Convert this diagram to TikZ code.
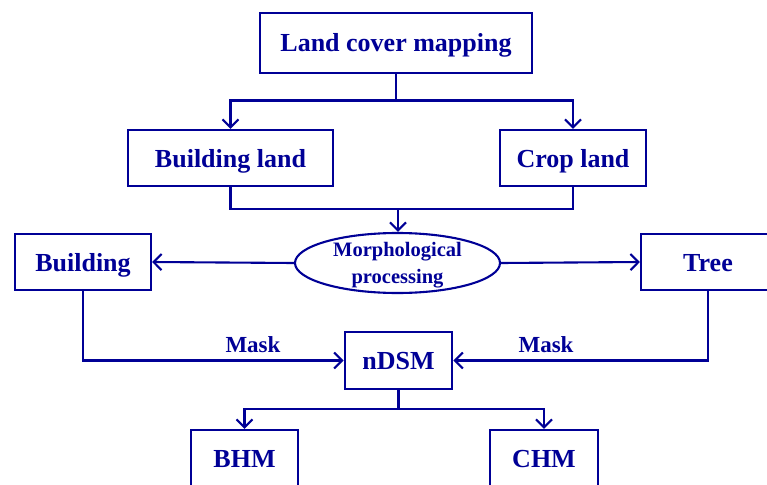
\documentclass[tikz,border=0pt]{standalone}
\usepackage{fontspec}
\setmainfont{Liberation Serif}
\usetikzlibrary{arrows.meta,shapes.geometric}
\definecolor{dblue}{RGB}{0,0,150}
\begin{document}
\begin{tikzpicture}[x=1pt,y=-1pt,
  ln/.style={draw=dblue, line width=2.1pt},
  box/.style={draw=dblue, line width=2.1pt, rectangle, inner sep=0pt, text=dblue,
    text height=18pt, text depth=0pt,
    font=\fontsize{26}{30}\selectfont\bfseries},
  arr/.style={ln, -{Straight Barb[length=8pt,width=16pt]}},
  lbl/.style={text=dblue, inner sep=0pt, font=\fontsize{23}{26}\selectfont\bfseries}]
\useasboundingbox (0,0) rectangle (767,484);
\clip (0,0) rectangle (767,484);
\node[box, minimum width=272pt, minimum height=60pt] (top) at (396,43) {Land cover mapping};
\node[box, minimum width=205pt, minimum height=56pt] (bland) at (230.5,158) {Building land};
\node[box, minimum width=146pt, minimum height=56pt] (cland) at (573,158) {Crop land};
\node[box, minimum width=136pt, minimum height=56pt] (bld) at (83,262) {Building};
\node[box, minimum width=134pt, minimum height=56pt] (tree) at (708,262) {Tree};
\node[ellipse, draw=dblue, line width=2.1pt, inner sep=0pt, minimum width=205pt, minimum height=60pt,
  text=dblue, align=center, text depth=0pt, font=\fontsize{20.5}{27.5}\selectfont\bfseries] (ell) at (397.5,263)
  {Morphological\\processing};
\node[box, minimum width=107.5pt, minimum height=57pt] (ndsm) at (398.5,360.5) {nDSM};
\node[box, minimum width=107.6pt, minimum height=57pt] (bhm) at (244.5,458.5) {BHM};
\node[box, minimum width=107.6pt, minimum height=57pt] (chm) at (544,458.5) {CHM};
\coordinate (j1) at (396,100.5);
\coordinate (j2) at (398,209);
\coordinate (j3) at (398.5,409);
\draw[ln] (top.south) -- (j1);
\draw[arr] (j1) -| (bland.north);
\draw[arr] (j1) -| (cland.north);
\draw[ln] (bland.south) |- (j2) -| (cland.south);
\draw[arr] (j2) -- (j2 |- ell.north);
\draw[arr] (ell.west) -- (bld.east);
\draw[arr] (ell.east) -- (tree.west);
\draw[arr] (bld.south) |- (ndsm.west) node[lbl, pos=0.826, anchor=south, yshift=7pt] {Mask};
\draw[arr] (tree.south) |- (ndsm.east) node[lbl, pos=0.818, anchor=south, yshift=7pt] {Mask};
\draw[ln] (ndsm.south) -- (j3);
\draw[arr] (j3) -| (bhm.north);
\draw[arr] (j3) -| (chm.north);
\end{tikzpicture}
\end{document}
